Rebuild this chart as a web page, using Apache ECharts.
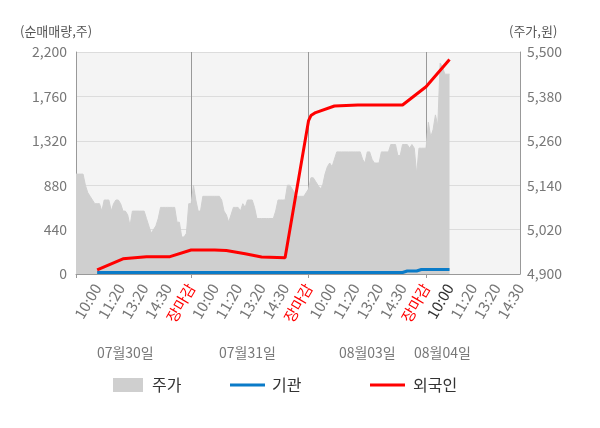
<!DOCTYPE html>
<html>
<head>
<meta charset="utf-8">
<script src="https://cdn.jsdelivr.net/npm/echarts@6.0.0/dist/echarts.min.js"></script>
<style>
  html, body { margin: 0; padding: 0; background: #fff; }
  #chart { width: 600px; height: 428px; }
</style>
</head>
<body>
<div id="chart"></div>
<script>
// trading days shown on the axis, 50 axis points per day
const days = ["07월30일", "07월31일", "08월03일", "08월04일"];
const timeTicks = ["10:00", "11:20", "13:20", "14:30", "장마감"];
const totalPoints = 190;
const closeIdx = [49, 99, 149];
const dayLabelIdx = [21, 73, 124, 156];
const nowIdx = 159;

const leftTicks = [0, 440, 880, 1320, 1760, 2200];
const rightTicks = [4900, 5020, 5140, 5260, 5380, 5500];

// 주가 (원)
const price0730 = [
  5170, 5170, 5170, 5170, 5140, 5120, 5110, 5100, 5090, 5090,
  5090, 5070, 5100, 5100, 5100, 5070, 5090, 5100, 5100, 5090,
  5070, 5070, 5060, 5030, 5070, 5070, 5070, 5070, 5070, 5070,
  5050, 5030, 5010, 5020, 5030, 5050, 5080, 5080, 5080, 5080,
  5080, 5080, 5080, 5040, 5040, 5000, 5000, 5010, 5090, 5090
];
const price0731 = [
  5140, 5100, 5070, 5070, 5110, 5110, 5110, 5110, 5110, 5110,
  5110, 5110, 5100, 5070, 5060, 5040, 5060, 5080, 5080, 5080,
  5070, 5090, 5080, 5100, 5100, 5100, 5080, 5050, 5050, 5050,
  5050, 5050, 5050, 5050, 5050, 5070, 5100, 5100, 5100, 5100,
  5140, 5140, 5130, 5120, 5110, 5110, 5110, 5110, 5120, 5130
];
const price0803 = [
  5160, 5160, 5150, 5140, 5130, 5140, 5170, 5190, 5200, 5190,
  5210, 5230, 5230, 5230, 5230, 5230, 5230, 5230, 5230, 5230,
  5230, 5230, 5210, 5200, 5230, 5230, 5210, 5200, 5200, 5200,
  5230, 5230, 5230, 5230, 5250, 5250, 5250, 5220, 5220, 5250,
  5250, 5250, 5240, 5250, 5240, 5170, 5240, 5240, 5240, 5240
];
const price0804 = [5310, 5270, 5290, 5330, 5300, 5470, 5460, 5440, 5440, 5440];

// 순매매량 (주): [axis index, value]
const foreign = [
  [9, 40], [20, 150], [30, 172], [40, 172], [49, 238], [59, 238], [64, 232],
  [72, 200], [79, 168], [89, 160], [99, 1520], [100, 1570], [102, 1600],
  [110, 1665], [120, 1675], [139, 1675], [149, 1856], [159, 2125]
];
const institution = [
  [9, 15], [139, 15], [141, 30], [145, 30], [147, 45], [159, 45]
];

const price = price0730.concat(price0731, price0803, price0804);

const categories = [];
for (let i = 0; i < totalPoints; i++) {
  categories.push(days[Math.floor(i / 50)] + "-" + (i % 50));
}
function tickLabel(i) {
  return i % 10 === 9 ? timeTicks[Math.floor(i / 10) % 5] : "";
}

const font = "'Noto Sans CJK KR', 'Noto Sans', sans-serif";
const fmt = (v) => v.toLocaleString("en-US");

const chart = echarts.init(document.getElementById("chart"));
chart.setOption({
  animation: false,
  textStyle: { fontFamily: font },
  grid: {
    left: 76, right: 80, top: 52, bottom: 154,
    show: true, backgroundColor: "#f4f4f4", borderWidth: 0
  },
  graphic: [
    { type: "text", left: 20, top: 25, style: { text: "(순매매량,주)", fill: "#555", font: "13px " + font } },
    { type: "text", left: 509, top: 25, style: { text: "(주가,원)", fill: "#555", font: "13px " + font } }
  ],
  legend: [
    { data: [{ name: "주가", icon: "rect" }], left: 113, top: 377, padding: 0, itemWidth: 30, itemHeight: 14,
      textStyle: { color: "#333", fontSize: 16, padding: [0, 0, 0, 4] } },
    { data: [{ name: "기관", icon: "rect" }], left: 230, top: 377, padding: 0, itemWidth: 35, itemHeight: 3,
      textStyle: { color: "#333", fontSize: 16, padding: [0, 0, 0, 2] } },
    { data: [{ name: "외국인", icon: "rect" }], left: 370, top: 377, padding: 0, itemWidth: 35, itemHeight: 3,
      textStyle: { color: "#333", fontSize: 16, padding: [0, 0, 0, 3] } }
  ],
  xAxis: [
    {
      type: "category",
      data: categories,
      boundaryGap: false,
      axisLine: { lineStyle: { color: "#999" } },
      axisTick: {
        show: true, length: 4, lineStyle: { color: "#999" },
        interval: (i) => i === 0 || closeIdx.includes(i)
      },
      axisLabel: {
        interval: (i) => tickLabel(i) !== "",
        formatter: (v, i) => {
          const t = tickLabel(i);
          if (closeIdx.includes(i)) return "{close|" + t + "}";
          if (i === nowIdx) return "{now|" + t + "}";
          return t;
        },
        rotate: 60,
        margin: 11,
        fontSize: 15,
        color: "#777",
        rich: {
          close: { color: "#ff0000", fontSize: 15 },
          now: { color: "#333", fontSize: 15 }
        }
      },
      splitLine: {
        show: true,
        interval: (i) => closeIdx.includes(i),
        lineStyle: { color: "#999" }
      }
    },
    {
      type: "category",
      data: categories,
      boundaryGap: false,
      position: "bottom",
      offset: 64,
      axisLine: { show: false },
      axisTick: { show: false },
      splitLine: { show: false },
      axisLabel: {
        interval: (i) => dayLabelIdx.includes(i),
        formatter: (v, i) => days[dayLabelIdx.indexOf(i)] || "",
        margin: 8,
        fontSize: 14,
        color: "#777"
      }
    }
  ],
  yAxis: [
    {
      type: "value",
      min: leftTicks[0], max: leftTicks[leftTicks.length - 1], interval: 440,
      position: "left",
      axisLine: { show: true, lineStyle: { color: "#999" } },
      axisTick: { show: false },
      axisLabel: { formatter: fmt, color: "#777", fontSize: 14, margin: 9 },
      splitLine: { show: true, lineStyle: { color: "#dcdcdc" } }
    },
    {
      type: "value",
      min: rightTicks[0], max: rightTicks[rightTicks.length - 1], interval: 120,
      position: "right",
      axisLine: { show: true, lineStyle: { color: "#999" } },
      axisTick: { show: false },
      axisLabel: { formatter: fmt, color: "#777", fontSize: 14, margin: 7 },
      splitLine: { show: false }
    }
  ],
  series: [
    {
      name: "주가",
      type: "line",
      yAxisIndex: 1,
      data: price,
      symbol: "none",
      itemStyle: { color: "#cfcfcf" },
      lineStyle: { color: "#cfcfcf", width: 1 },
      areaStyle: { color: "#cfcfcf", opacity: 1, origin: "start" },
      z: 1
    },
    {
      name: "기관",
      type: "line",
      data: institution,
      symbol: "none",
      itemStyle: { color: "#0a7bc8" },
      lineStyle: { color: "#0a7bc8", width: 3 },
      z: 3
    },
    {
      name: "외국인",
      type: "line",
      data: foreign,
      symbol: "none",
      itemStyle: { color: "#ff0000" },
      lineStyle: { color: "#ff0000", width: 3 },
      z: 4
    }
  ]
});
</script>
</body>
</html>
